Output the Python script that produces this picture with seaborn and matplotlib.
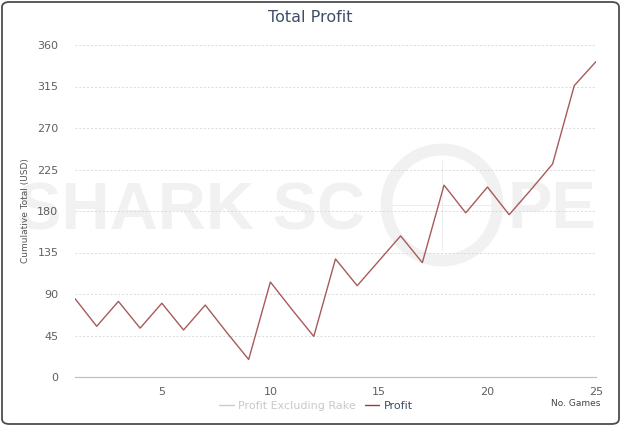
import matplotlib
matplotlib.use("Agg")
import matplotlib.pyplot as plt
from matplotlib.lines import Line2D
from matplotlib.patches import Circle, FancyBboxPatch
import seaborn as sns
import pandas as pd

games = list(range(1, 26))
profit = [85, 55, 82, 53, 80, 51, 78, 48, 19, 103, 73, 44, 128, 99, 126,
          153, 124, 208, 178, 206, 176, 203, 231, 316, 342]
y_ticks = [0, 45, 90, 135, 180, 225, 270, 315, 360]
x_ticks = [5, 10, 15, 20, 25]
legend_labels = ["Profit Excluding Rake", "Profit"]

df = pd.DataFrame({"No. Games": games, "Profit": profit})

sns.set_theme(style="white")
plt.rcParams["font.family"] = ["DejaVu Sans"]

W, H = 621, 426
fig = plt.figure(figsize=(W / 100, H / 100), dpi=100)
ax = fig.add_axes([75 / W, 1 - 377 / H, (596 - 75) / W, (377 - 45) / H])
ax.set_facecolor("none")
ax.set_zorder(2)

LINE = "#a85a5a"
sns.lineplot(data=df, x="No. Games", y="Profit", ax=ax, color=LINE,
             linewidth=1.0, zorder=3, legend=False)

ax.set_xlim(1, 25)
ax.set_ylim(0, 360)
ax.set_yticks(y_ticks)
ax.set_xticks(x_ticks)
ax.set_xlabel("")
ax.set_ylabel("Cumulative Total (USD)", fontsize=6.5, color="#555555", labelpad=5)
ax.tick_params(axis="y", length=0, labelsize=8, labelcolor="#606060", pad=12)
ax.tick_params(axis="x", length=5, width=0.8, color="#c0c0c0", labelsize=8,
               labelcolor="#606060", pad=2, direction="out")
ax.grid(axis="y", color="#d9d9d9", linestyle=(0, (2, 2)), linewidth=0.7)
ax.set_axisbelow(True)
for s in ["top", "right", "left"]:
    ax.spines[s].set_visible(False)
ax.spines["bottom"].set_color("#c0c0c0")
ax.spines["bottom"].set_linewidth(0.9)
ax.spines["bottom"].set_zorder(2)

# watermark (drawn beneath the axes)
WM = "#f1f1f1"
fig.text(17 / W, 1 - 229 / H, "SHARK SC", fontsize=48, fontweight="bold",
         family="Liberation Sans", color=WM, ha="left", va="baseline", zorder=0)
fig.text(507 / W, 1 - 228 / H, "PE", fontsize=48, fontweight="bold",
         family="Liberation Sans", color=WM, ha="left", va="baseline", zorder=0)
circ = Circle((442 / 100, (H - 205) / 100), 0.555, fill=False, edgecolor=WM,
              linewidth=8.5, transform=fig.dpi_scale_trans, zorder=0)
fig.patches.append(circ)
fig.add_artist(Line2D([442 / W, 442 / W], [1 - 250 / H, 1 - 160 / H],
                      color="#ededed", linewidth=0.7, zorder=0))
fig.add_artist(Line2D([385 / W, 500 / W], [1 - 205 / H, 1 - 205 / H],
                      color="#ededed", linewidth=0.7, zorder=0))

# title
fig.text(310 / W, 1 - 18 / H, "Total Profit", fontsize=11.5, color="#3e4f66",
         ha="center", va="center")

# legend
handles = [Line2D([], [], color="#cccccc", linewidth=1.0),
           Line2D([], [], color="#9a3a3a", linewidth=1.0)]
leg = fig.legend(handles, legend_labels, loc="center", ncol=2,
                 bbox_to_anchor=(316 / W, 1 - 406 / H), frameon=False,
                 fontsize=8, handlelength=1.3, handletextpad=0.4,
                 columnspacing=0.8)
leg.get_texts()[0].set_color("#c8c8c8")
leg.get_texts()[1].set_color("#3e4f66")

fig.text(600 / W, 1 - 404 / H, "No. Games", fontsize=6.5, color="#444444",
         ha="right", va="center")

# outer rounded border
border = FancyBboxPatch((2 / W, 2 / H), 1 - 4 / W, 1 - 4 / H,
                        boxstyle="round,pad=0,rounding_size=0.012",
                        transform=fig.transFigure, fill=False,
                        edgecolor="#4d4d4d", linewidth=1.3, zorder=10)
fig.patches.append(border)

fig.savefig("out.png", dpi=100)
